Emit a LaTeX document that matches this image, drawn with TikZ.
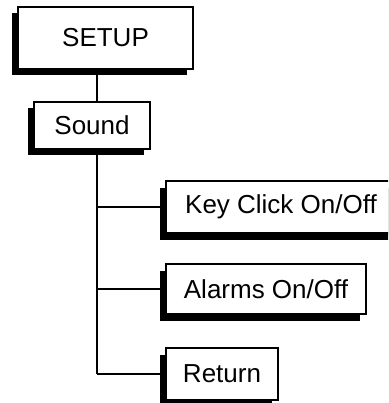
\documentclass[tikz,border=0pt]{standalone}
\usepackage{fontspec}
\setmainfont{Liberation Sans}
\usepackage{tikz}
\usetikzlibrary{shadows}
\newcommand{\branch}[1]{
    \draw[wire] (trunk |- #1.west) -- (#1.west);
}

\begin{document}
\begin{tikzpicture}[x=1pt,y=-1pt,
        menu/.style={draw, line width=2pt, fill=white, inner sep=0pt,
            font=\fontsize{26}{30}\selectfont,
            drop shadow={shadow xshift=-6pt, shadow yshift=-6.5pt, opacity=1, fill=black}},
        wire/.style={line width=2.4pt}]
    \useasboundingbox (0,0) rectangle (388,403);
    \clip (0,0) rectangle (388,403);
    \node[menu, minimum width=175pt, minimum height=62pt] (setup) at (105.5,38) {SETUP};
    \node[menu, minimum width=116pt, minimum height=47pt] (sound) at (92,125.5) {Sound};
    \node[menu, anchor=west, minimum width=230pt, minimum height=52pt] (key) at (165,207) {Key Click On/Off};
    \node[menu, anchor=west, minimum width=200pt, minimum height=50pt] (alarm) at (165,289) {Alarms On/Off};
    \node[menu, anchor=west, minimum width=112pt, minimum height=52pt] (ret) at (165,374) {Return};
    \coordinate (trunk) at (97,0);
    \draw[wire] (setup.south -| trunk) -- (sound.north -| trunk);
    \draw[wire] (sound.south -| trunk) -- (trunk |- ret.west); % spine down the submenu
    \branch{key}
    \branch{alarm}
    \branch{ret}
\end{tikzpicture}
\end{document}
